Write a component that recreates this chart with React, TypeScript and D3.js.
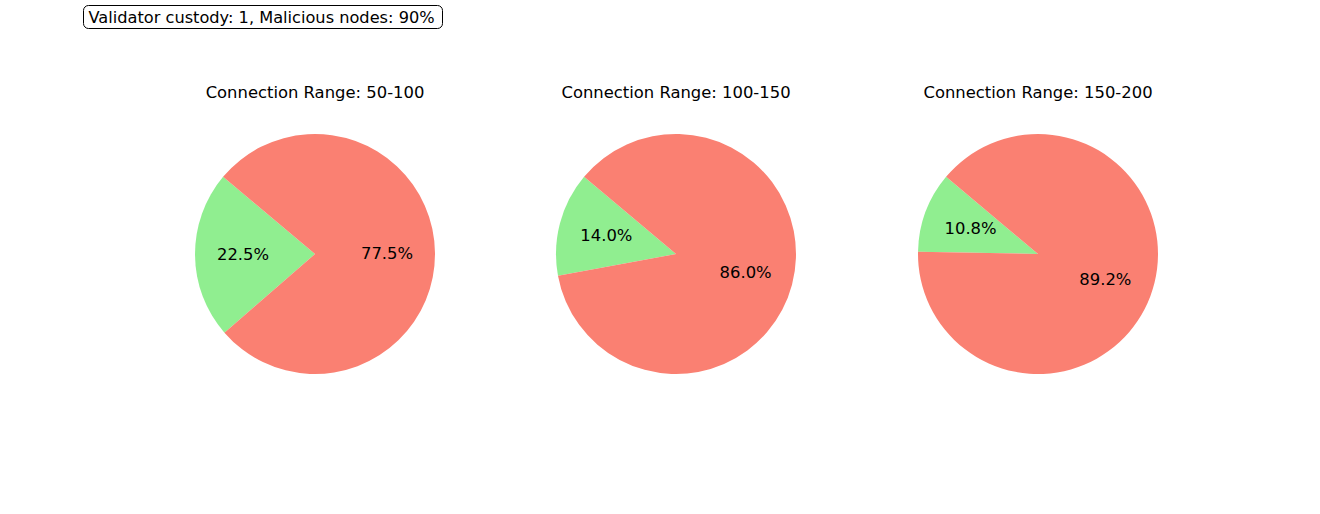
import React from "react";
import * as d3 from "d3";

const titles = ["Connection Range: 50-100", "Connection Range: 100-150", "Connection Range: 150-200"];
const honest = [22.5, 14.0, 10.8];
const malicious = [77.5, 86.0, 89.2];
const sliceColors = ["#90EE90", "#FA8072"];
const boxText = "Validator custody: 1, Malicious nodes: 90%";

const W = 1320, H = 514;
const centersX = [315, 676, 1038];
const cy = 254;
const R = 120;
const startDeg = 140;
const font = "DejaVu Sans, sans-serif";
const fs = 16.4;

export default function App() {
  const toD3 = (deg: number) => ((90 - deg) * Math.PI) / 180;
  const arc = d3.arc<any>().innerRadius(0).outerRadius(R);
  return (
    <svg width={W} height={H} style={{ position: "absolute", left: 0, top: 0 }}>
      <rect width={W} height={H} fill="white" />
      <rect x={83.5} y={5.5} width={359} height={23} rx={5} fill="white" stroke="black" strokeWidth={1} />
      <text x={88.5} y={22.5} fontFamily={font} fontSize={16.2} fill="black">{boxText}</text>
      {titles.map((t, i) => {
        const vals = [honest[i], malicious[i]];
        const total = d3.sum(vals);
        let cum = startDeg;
        const slices = vals.map((v, j) => {
          const a0 = cum;
          const a1 = cum + (v / total) * 360;
          cum = a1;
          return { a0, a1, v, j };
        });
        const cx = centersX[i];
        return (
          <g key={i}>
            <text x={cx} y={98} textAnchor="middle" fontFamily={font} fontSize={fs} fill="black">{t}</text>
            {slices.map((s) => (
              <path
                key={s.j}
                transform={`translate(${cx},${cy})`}
                d={arc({ startAngle: toD3(s.a0), endAngle: toD3(s.a1) }) || ""}
                fill={sliceColors[s.j]}
              />
            ))}
            {slices.map((s) => {
              const mid = ((s.a0 + s.a1) / 2) * Math.PI / 180;
              const x = cx + 0.6 * R * Math.cos(mid);
              const y = cy - 0.6 * R * Math.sin(mid);
              return (
                <text key={"l" + s.j} x={x} y={y} textAnchor="middle" dominantBaseline="central" fontFamily={font} fontSize={fs} fill="black">
                  {s.v.toFixed(1)}%
                </text>
              );
            })}
          </g>
        );
      })}
    </svg>
  );
}
